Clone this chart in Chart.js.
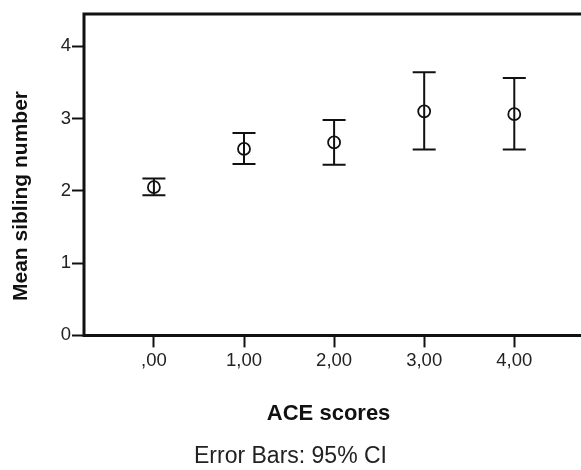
<!DOCTYPE html>
<html>
<head>
<meta charset="utf-8">
<script src="https://cdn.jsdelivr.net/npm/chart.js@4.4.1/dist/chart.umd.min.js"></script>
<style>
  html, body { margin: 0; padding: 0; background: #fff; overflow: hidden; }
  #chart { display: block; }
</style>
</head>
<body>
<canvas id="chart" width="581" height="470"></canvas>
<script>
// ACE score groups and their tick labels
const aceScores = [0, 1, 2, 3, 4];
const tickLabels = [',00', '1,00', '2,00', '3,00', '4,00'];
const yTicks = [0, 1, 2, 3, 4];

// mean sibling number with 95% CI
const means = [2.05, 2.58, 2.67, 3.10, 3.06];
const ciLower = [1.94, 2.37, 2.36, 2.57, 2.57];
const ciUpper = [2.17, 2.80, 2.98, 3.64, 3.56];

const FONT = "'Liberation Sans', Arial, sans-serif";
const INK = '#111';

// frame: left axis, bottom axis, top border (right edge is cut off)
// plus the y title, which sits lower than the plot centre in the original
const framePlugin = {
  id: 'frame',
  afterDraw(chart) {
    const { ctx, chartArea } = chart;
    const { left, top, bottom } = chartArea;
    ctx.save();
    ctx.strokeStyle = INK;
    ctx.lineWidth = 3;
    ctx.beginPath();
    ctx.moveTo(chart.width, top + 1);
    ctx.lineTo(left, top + 1);
    ctx.lineTo(left, bottom);
    ctx.lineTo(chart.width, bottom);
    ctx.stroke();

    ctx.translate(21, 196);
    ctx.rotate(-Math.PI / 2);
    ctx.fillStyle = INK;
    ctx.font = 'bold 21px ' + FONT;
    ctx.textAlign = 'center';
    ctx.textBaseline = 'middle';
    ctx.fillText('Mean sibling number', 0, 0);
    ctx.restore();
  }
};

// CI whiskers drawn through the scales
const errorBarPlugin = {
  id: 'errorBars',
  afterDatasetsDraw(chart) {
    const { ctx, scales } = chart;
    const capHalf = 11.5;
    ctx.save();
    ctx.strokeStyle = INK;
    ctx.lineWidth = 2;
    aceScores.forEach((s, i) => {
      const x = scales.x.getPixelForValue(s);
      const yLo = scales.y.getPixelForValue(ciLower[i]);
      const yHi = scales.y.getPixelForValue(ciUpper[i]);
      ctx.beginPath();
      ctx.moveTo(x, yLo);
      ctx.lineTo(x, yHi);
      ctx.moveTo(x - capHalf, yHi);
      ctx.lineTo(x + capHalf, yHi);
      ctx.moveTo(x - capHalf, yLo);
      ctx.lineTo(x + capHalf, yLo);
      ctx.stroke();
    });
    ctx.restore();
  }
};

const config = {
  type: 'scatter',
  data: {
    datasets: [{
      label: 'Mean sibling number',
      data: aceScores.map((s, i) => ({ x: s, y: means[i] })),
      pointStyle: 'circle',
      pointRadius: 6,
      pointBorderWidth: 1.8,
      borderColor: INK,
      backgroundColor: 'rgba(0,0,0,0)',
      showLine: false
    }]
  },
  options: {
    responsive: false,
    animation: false,
    layout: { padding: { top: 13, right: 0, bottom: 0, left: 0 } },
    plugins: {
      legend: { display: false },
      tooltip: { enabled: false },
      subtitle: {
        display: true,
        position: 'bottom',
        text: 'Error Bars: 95% CI',
        color: '#222',
        font: { family: FONT, size: 23, weight: 'normal', lineHeight: 1.2 },
        padding: { top: 0, bottom: 0 }
      }
    },
    scales: {
      x: {
        type: 'linear',
        min: -0.776,
        max: 4.654,
        afterBuildTicks: (scale) => { scale.ticks = aceScores.map(v => ({ value: v })); },
        afterFit: (scale) => { scale.height = 107; },
        border: { display: false },
        grid: {
          display: true,
          drawOnChartArea: false,
          drawTicks: true,
          tickLength: 12,
          tickWidth: 2,
          tickColor: INK,
          color: INK
        },
        ticks: {
          padding: 2.5,
          color: '#222',
          maxRotation: 0,
          font: { family: FONT, size: 18.5 },
          callback: (value) => tickLabels[aceScores.indexOf(value)]
        },
        title: {
          display: true,
          text: 'ACE scores',
          color: '#111',
          font: { family: FONT, size: 22, weight: 'bold', lineHeight: 1.2 },
          padding: { top: 0, bottom: 15.5 }
        }
      },
      y: {
        type: 'linear',
        min: 0,
        max: 4.46,
        afterBuildTicks: (scale) => { scale.ticks = yTicks.map(v => ({ value: v })); },
        afterFit: (scale) => { scale.width = 84; },
        border: { display: false },
        grid: {
          display: true,
          drawOnChartArea: false,
          drawTicks: true,
          tickLength: 12,
          tickWidth: 2,
          tickColor: INK,
          color: INK
        },
        ticks: {
          padding: 1,
          color: '#222',
          font: { family: FONT, size: 18.5 },
          callback: (value) => String(value)
        },
        title: { display: false }
      }
    }
  },
  plugins: [framePlugin, errorBarPlugin]
};

new Chart(document.getElementById('chart'), config);
</script>
</body>
</html>
